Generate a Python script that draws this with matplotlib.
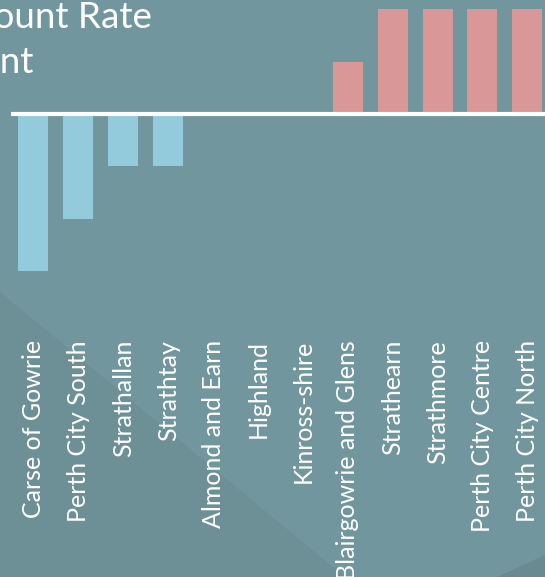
import numpy as np
import matplotlib.pyplot as plt
from matplotlib.patches import Polygon

# ward names and change in claimant count rate
wards = ['Carse of Gowrie', 'Perth City South', 'Strathallan', 'Strathtay',
         'Almond and Earn', 'Highland', 'Kinross-shire', 'Blairgowrie and Glens',
         'Strathearn', 'Strathmore', 'Perth City Centre', 'Perth City North']
change = [-3, -2, -1, -1, 0, 0, 0, 1, 2, 2, 2, 2]

bg = '#71969d'
pos_col = '#da9797'
neg_col = '#93cbdc'

W, H = 545, 577
fig = plt.figure(figsize=(W / 100, H / 100), dpi=100, facecolor=bg)

# subtle background shapes (figure pixel coords -> fraction)
def px(pts):
    return [(x / W, 1 - y / H) for x, y in pts]

fig.patches.append(Polygon(px([(0, 292), (345, 577), (0, 577)]), closed=True,
                           transform=fig.transFigure, facecolor='#6d9097',
                           edgecolor='none', zorder=0))
fig.patches.append(Polygon(px([(497, 577), (545, 555), (545, 577)]), closed=True,
                           transform=fig.transFigure, facecolor='#698a90',
                           edgecolor='none', zorder=0))

ymax = 114 / 52.4
ymin = -3.2
ax_h = (ymax - ymin) * 52.4 / H
ax = fig.add_axes([11 / W, 1 - ax_h, 12 * 44.9 / W, ax_h])
ax.patch.set_alpha(0)
ax.set_zorder(2)

x = np.arange(len(wards))
colors = [pos_col if v > 0 else neg_col for v in change]
ax.bar(x, change, width=0.67, color=colors, zorder=2)
ax.axhline(0, color='white', lw=3, zorder=3)

ax.set_xlim(-0.5, 11.5)
ax.set_ylim(ymin, ymax)
ax.set_yticks([])
ax.set_xticks(x)
ax.set_xticklabels(wards, rotation=90, ha='center', va='top',
                   fontsize=18, color='white', family='Lato')
ax.tick_params(axis='x', length=0, pad=42)
for s in ax.spines.values():
    s.set_visible(False)

# title, partly off the left edge as in the original
fig.text(152 / W, 1 - 28 / H, 'Claimant Count Rate', ha='right', va='baseline',
         fontsize=26.5, color='white', family='Lato', zorder=3)
fig.text(34 / W, 1 - 73 / H, 'Percent', ha='right', va='baseline',
         fontsize=26.5, color='white', family='Lato', zorder=3)

fig.savefig('out.png', dpi=100, facecolor=bg)
